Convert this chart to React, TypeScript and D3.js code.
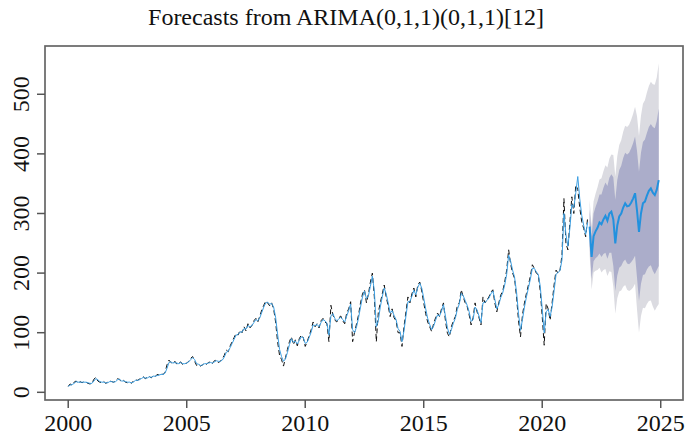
import React from "react";
import * as d3 from "d3";

// Monthly observations, Jan 2000 – Dec 2021
const observed: number[] = [
  10, 14, 12, 17, 19, 15, 18, 16, 18, 17, 15, 14,
  15, 22, 25, 19, 17, 16, 18, 15, 17, 19, 18, 17,
  19, 23, 21, 18, 20, 17, 16, 18, 15, 19, 21, 20,
  22, 24, 26, 23, 25, 27, 24, 28, 26, 30, 29, 31,
  30, 33, 46, 54, 50, 48, 52, 47, 49, 51, 46, 48,
  49, 52, 57, 60, 52, 45, 47, 44, 46, 49, 47, 50,
  51, 48, 53, 54, 50, 52, 56, 62, 71, 68, 78, 85,
  92, 99, 96, 104, 100, 110, 103, 115, 108, 112, 120, 124,
  118, 128, 138, 146, 153, 150, 145, 150, 140, 118, 85, 62,
  55, 44, 58, 72, 85, 93, 80, 88, 78, 90, 96, 92,
  77, 85, 95, 105, 118, 110, 115, 108, 120, 124, 118, 115,
  85, 146, 130, 121, 118, 125, 128, 120, 115, 133, 140, 152,
  85, 101, 115, 130, 150, 165, 172, 150, 165, 185, 200, 160,
  85, 134, 150, 165, 180, 160, 145, 127, 140, 125, 120, 100,
  100, 77, 110, 135, 160, 150, 165, 175, 160, 180, 185, 170,
  150, 132, 118, 110, 102, 115, 125, 133, 127, 140, 150, 120,
  99, 93, 110, 120, 127, 145, 150, 172, 160, 150, 144, 130,
  113, 125, 150, 135, 125, 113, 160, 150, 155, 160, 168, 172,
  150, 135, 150, 163, 170, 185, 205, 239, 215, 200, 191, 160,
  120, 93, 130, 150, 166, 180, 195, 214, 208, 200, 197, 170,
  127, 79, 149, 140, 121, 150, 180, 205, 200, 205, 230, 325,
  250, 239, 285, 328, 300, 348, 340, 310, 286, 275, 261, 293,
];

// In-sample one-step fitted values, Jan 2000 – Dec 2021
const fittedValues: number[] = [
  10, 12, 13, 15, 18, 17, 17, 17, 17, 17, 16, 15,
  15, 19, 23, 21, 18, 17, 17, 16, 16, 18, 18, 17,
  18, 21, 22, 19, 19, 18, 17, 17, 16, 17, 20, 20,
  21, 23, 25, 24, 24, 26, 25, 27, 27, 28, 29, 30,
  30, 32, 40, 50, 51, 49, 50, 49, 48, 50, 48, 48,
  49, 51, 55, 58, 55, 48, 47, 45, 46, 48, 48, 49,
  50, 49, 51, 53, 52, 52, 54, 59, 67, 69, 75, 82,
  89, 96, 97, 101, 101, 107, 106, 112, 110, 112, 117, 122,
  120, 125, 134, 143, 150, 151, 148, 149, 143, 126, 98, 72,
  60, 52, 56, 67, 80, 90, 84, 86, 81, 87, 93, 92,
  82, 84, 92, 101, 113, 112, 114, 110, 117, 122, 120, 116,
  96, 128, 132, 124, 120, 123, 126, 122, 118, 128, 137, 148,
  105, 100, 110, 125, 143, 160, 170, 157, 162, 178, 195, 170,
  110, 120, 143, 160, 175, 165, 150, 133, 137, 129, 122, 107,
  102, 85, 103, 128, 152, 152, 161, 171, 164, 176, 183, 175,
  158, 140, 124, 114, 105, 111, 121, 130, 128, 136, 147, 128,
  108, 97, 105, 116, 124, 139, 148, 166, 162, 154, 146, 135,
  119, 122, 143, 138, 128, 117, 150, 151, 154, 158, 165, 170,
  156, 140, 147, 159, 167, 180, 198, 230, 220, 205, 193, 168,
  132, 104, 122, 143, 160, 175, 190, 208, 208, 202, 198, 178,
  140, 100, 135, 139, 127, 143, 170, 198, 201, 204, 222, 300,
  265, 245, 275, 315, 310, 335, 362, 325, 297, 280, 265, 285,
];

// Point forecasts and prediction intervals, Jan 2022 – Dec 2024
const forecastMean: number[] = [
  278, 227, 262, 270, 276, 285, 282, 290, 296, 288, 300, 303,
  290, 250, 280, 295, 300, 310, 317, 312, 313, 318, 325, 334,
  305, 269, 300, 317, 320, 330, 338, 342, 335, 331, 340, 356,
];
const lower80: number[] = [
  246, 190, 220, 225, 228, 233, 227, 232, 234, 224, 234, 234,
  212, 170, 196, 209, 212, 219, 223, 216, 215, 218, 223, 229,
  192, 153, 182, 197, 198, 206, 211, 213, 204, 198, 205, 212,
];
const upper80: number[] = [
  307, 261, 300, 311, 320, 332, 332, 343, 352, 346, 360, 366,
  361, 323, 356, 373, 380, 393, 402, 399, 402, 409, 418, 429,
  405, 370, 402, 420, 424, 435, 445, 450, 445, 443, 455, 476,
];
const lower95: number[] = [
  231, 172, 201, 204, 205, 209, 201, 205, 207, 195, 203, 202,
  177, 132, 158, 169, 171, 177, 180, 172, 170, 172, 176, 182,
  139, 100, 128, 142, 141, 148, 153, 154, 144, 137, 143, 148,
];
const upper95: number[] = [
  323, 279, 320, 333, 344, 357, 359, 371, 381, 377, 392, 399,
  398, 362, 396, 415, 423, 437, 447, 445, 449, 457, 467, 479,
  463, 430, 464, 484, 490, 503, 514, 521, 517, 516, 528, 552,
];

const xTicks: number[] = [2000, 2005, 2010, 2015, 2020, 2025];
const yTicks: number[] = [0, 100, 200, 300, 400, 500];

const title = "Forecasts from ARIMA(0,1,1)(0,1,1)[12]";
const startYear = 2000;
const forecastStart = 2022;

const W = 688;
const H = 439;
const box = { left: 45, right: 683, top: 46, bottom: 400 };

const FONT = "'Liberation Serif', 'Times New Roman', serif";
const BLUE = "#2291DE";
const FIT_BLUE = "#3D9FE2";

type Pt = { t: number; v: number };
type Band = { t: number; lo: number; hi: number };

export default function App() {
  const x = d3.scaleLinear().domain([1999.02, 2025.94]).range([box.left, box.right]);
  const y = d3.scaleLinear().domain([-12.9, 581]).range([box.bottom, box.top]);

  const obs: Pt[] = observed.map((v, i) => ({ t: startYear + i / 12, v }));
  const fit: Pt[] = fittedValues.map((v, i) => ({ t: startYear + i / 12, v }));
  const fc: Pt[] = forecastMean.map((v, i) => ({ t: forecastStart + i / 12, v }));
  const band80: Band[] = forecastMean.map((_, i) => ({
    t: forecastStart + i / 12,
    lo: lower80[i],
    hi: upper80[i],
  }));
  const band95: Band[] = forecastMean.map((_, i) => ({
    t: forecastStart + i / 12,
    lo: lower95[i],
    hi: upper95[i],
  }));

  const line = d3
    .line<Pt>()
    .x((d) => x(d.t))
    .y((d) => y(d.v));
  const area = d3
    .area<Band>()
    .x((d) => x(d.t))
    .y0((d) => y(d.lo))
    .y1((d) => y(d.hi));

  return (
    <svg
      width={W}
      height={H}
      style={{ position: "absolute", left: 0, top: 0, background: "#fff" }}
      fontFamily={FONT}
    >
      <rect x={0} y={0} width={W} height={H} fill="#fff" />

      {/* prediction intervals */}
      <path d={area(band95) ?? ""} fill="#DBDBE1" stroke="none" />
      <path d={area(band80) ?? ""} fill="#ABADCA" stroke="none" />

      {/* observed series */}
      <path
        d={line(obs) ?? ""}
        fill="none"
        stroke="#111"
        strokeWidth={1}
        strokeDasharray="5,3"
      />
      {/* fitted values */}
      <path d={line(fit) ?? ""} fill="none" stroke={FIT_BLUE} strokeWidth={1} />
      {/* point forecasts */}
      <path d={line(fc) ?? ""} fill="none" stroke={BLUE} strokeWidth={2} />

      {/* plot frame */}
      <rect
        x={box.left}
        y={box.top}
        width={box.right - box.left}
        height={box.bottom - box.top}
        fill="none"
        stroke="#666"
        strokeWidth={1.7}
      />

      {/* x axis */}
      {xTicks.map((t) => (
        <g key={`x${t}`}>
          <line
            x1={x(t)}
            x2={x(t)}
            y1={box.bottom}
            y2={box.bottom + 8}
            stroke="#555"
            strokeWidth={1.5}
          />
          <text x={x(t)} y={431} textAnchor="middle" fontSize={24} fill="#111">
            {t}
          </text>
        </g>
      ))}

      {/* y axis */}
      {yTicks.map((v) => (
        <g key={`y${v}`}>
          <line
            x1={box.left - 8}
            x2={box.left}
            y1={y(v)}
            y2={y(v)}
            stroke="#555"
            strokeWidth={1.5}
          />
          <text
            transform={`translate(29,${y(v)}) rotate(-90)`}
            textAnchor="middle"
            fontSize={24}
            fill="#111"
          >
            {v}
          </text>
        </g>
      ))}

      <text x={346} y={25} textAnchor="middle" fontSize={24} fill="#111">
        {title}
      </text>
    </svg>
  );
}
